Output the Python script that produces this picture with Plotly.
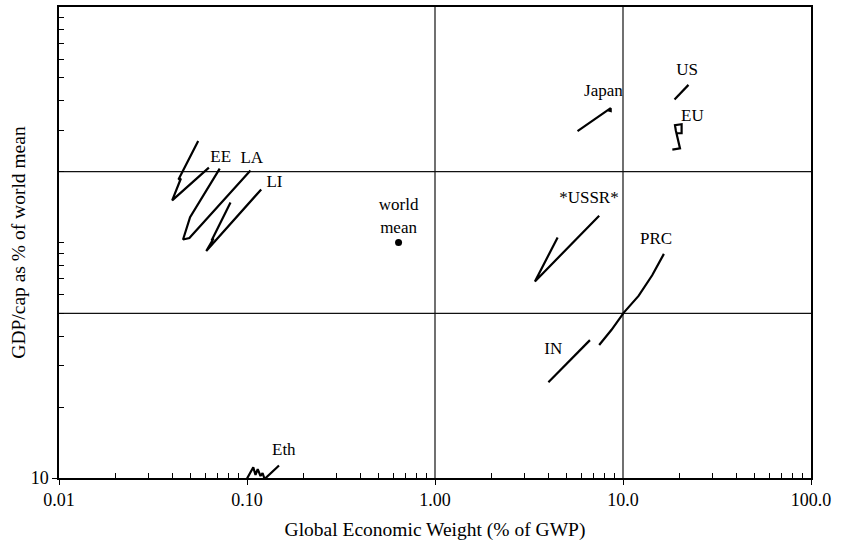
import plotly.graph_objects as go

# ---- data ----
ee_x = [0.0550, 0.0452, 0.0432, 0.0445, 0.0400, 0.0627]
ee_y = [270, 196, 185, 187, 151, 208]
la_x = [0.0716, 0.0498, 0.0457, 0.0494, 0.1043]
la_y = [206, 128, 103, 104.5, 202]
li_x = [0.0817, 0.0658, 0.0648, 0.0664, 0.0607, 0.119]
li_y = [148, 106, 102, 104, 92, 168]
ussr_x = [4.49, 3.40, 7.47]
ussr_y = [105, 68.3, 130]
prc_x = [7.47, 8.69, 10.1, 12.1, 14.3, 16.5]
prc_y = [36.7, 42.6, 50.4, 59.3, 72.6, 89.5]
in_x = [4.01, 6.67]
in_y = [25.5, 38.5]
japan_x = [5.73, 7.2, 8.2, 8.6, 8.6, 8.3]
japan_y = [297, 338, 362, 372, 362, 365]
us_x = [18.8, 20.3, 21.6, 22.3]
us_y = [405, 432, 455, 467]
eu_x = [18.3, 20.1, 19.1, 18.9, 20.5, 20.5, 19.3]
eu_y = [248, 251, 299, 315, 318, 291, 291]
eth_x = [0.099, 0.108, 0.111, 0.114, 0.118, 0.121, 0.124, 0.148]
eth_y = [9.8, 11.1, 10.3, 10.9, 10.2, 10.5, 9.9, 11.3]
world_x = [0.64]
world_y = [100]

label_text = ["EE", "LA", "LI", "world<br>mean", "Japan", "US", "EU", "*USSR*", "PRC", "IN", "Eth"]
label_x = [0.0725, 0.106, 0.140, 0.64, 7.87, 21.9, 23.4, 6.59, 15.0, 4.26, 0.157]
label_y = [230, 227, 179, 128, 436, 534, 342, 153.5, 102.7, 35.2, 13.0]

ref_vx = [1, 10]          # vertical reference lines
ref_hy = [50, 200]        # horizontal reference lines
x_range = [0.01, 100]
y_range = [10, 1000]

x_major = [0.01, 0.1, 1, 10, 100]
x_major_text = ["0.01", "0.10", "1.00", "10.0", "100.0"]
y_major = [10]
y_major_text = ["10"]

FONT = "Liberation Serif"

fig = go.Figure()

# reference lines
for v in ref_vx:
    fig.add_trace(go.Scatter(x=[v, v], y=y_range, mode="lines",
                             line=dict(color="#111", width=1.2),
                             hoverinfo="skip", showlegend=False))
for h in ref_hy:
    fig.add_trace(go.Scatter(x=x_range, y=[h, h], mode="lines",
                             line=dict(color="#111", width=1.2),
                             hoverinfo="skip", showlegend=False))

series = [(ee_x, ee_y), (la_x, la_y), (li_x, li_y), (ussr_x, ussr_y),
          (prc_x, prc_y), (in_x, in_y), (japan_x, japan_y), (us_x, us_y),
          (eu_x, eu_y), (eth_x, eth_y)]
for sx, sy in series:
    fig.add_trace(go.Scatter(x=sx, y=sy, mode="lines",
                             line=dict(color="black", width=2.2),
                             showlegend=False))

fig.add_trace(go.Scatter(x=world_x, y=world_y, mode="markers",
                         marker=dict(color="black", size=7),
                         showlegend=False))

fig.add_trace(go.Scatter(x=label_x, y=label_y, mode="text", text=label_text,
                         textposition="middle center",
                         textfont=dict(family=FONT, size=17, color="black"),
                         cliponaxis=False, showlegend=False))

minor_x = [m * 10 ** e for e in range(-2, 2) for m in range(2, 10)]
minor_y = [m * 10 ** e for e in range(1, 3) for m in range(2, 10)] + [100]

fig.update_xaxes(type="log", range=[-2, 2], automargin=False,
                 tickvals=x_major, ticktext=x_major_text,
                 ticks="outside", ticklen=5, tickwidth=1.2, tickcolor="black",
                 minor=dict(tickvals=minor_x, ticks="inside", ticklen=5,
                            tickwidth=1, tickcolor="black", showgrid=False),
                 showgrid=False, showline=True, linecolor="black",
                 linewidth=1.5, mirror=True,
                 tickfont=dict(family=FONT, size=18, color="black"),
                 title=dict(text="Global Economic Weight (% of GWP)",
                            font=dict(family=FONT, size=19.5, color="black"),
                            standoff=13))
fig.update_yaxes(type="log", range=[1, 3], automargin=False,
                 tickvals=y_major, ticktext=y_major_text,
                 ticks="outside", ticklen=5, tickwidth=1.2, tickcolor="black",
                 minor=dict(tickvals=minor_y, ticks="inside", ticklen=5,
                            tickwidth=1, tickcolor="black", showgrid=False),
                 showgrid=False, showline=True, linecolor="black",
                 linewidth=1.5, mirror=True,
                 tickfont=dict(family=FONT, size=18, color="black"),
                 title=dict(text="GDP/cap as % of world mean",
                            font=dict(family=FONT, size=19.5, color="black"),
                            standoff=0))

fig.update_layout(width=841, height=541,
                  margin=dict(l=59, r=30, t=7, b=63),
                  paper_bgcolor="white", plot_bgcolor="white",
                  showlegend=False)

fig.write_html("out.html",
               config={"displayModeBar": False},
               post_script="document.body.style.margin='0px';"
                           "document.body.style.overflow='hidden';")
